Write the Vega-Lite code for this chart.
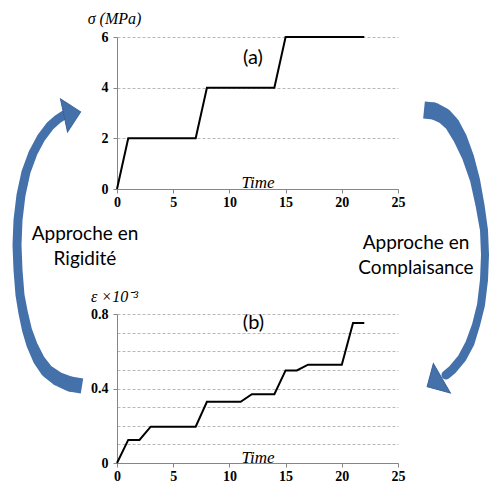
{
  "$schema": "https://vega.github.io/schema/vega-lite/v6.json",
  "background": "white",
  "padding": {"left": 12, "top": 10, "right": 0, "bottom": 0},
  "spacing": 125,
  "bounds": "flush",
  "config": {
    "view": {"stroke": null},
    "axis": {
      "domainColor": "#868686",
      "tickColor": "#868686",
      "tickSize": 4,
      "labelFont": "Liberation Serif",
      "labelFontWeight": "bold",
      "labelFontSize": 14,
      "labelColor": "#000000",
      "titleFont": "Liberation Serif",
      "titleFontStyle": "italic",
      "titleFontWeight": "normal",
      "titleFontSize": 17,
      "titleColor": "#000000",
      "gridColor": "#b8b8b8",
      "gridDash": [3, 2],
      "gridWidth": 1
    }
  },
  "vconcat": [
    {
      "width": 281,
      "height": 152,
      "encoding": {
        "x": {
          "field": "t", "type": "quantitative",
          "scale": {"domain": [0, 25], "nice": false, "zero": false},
          "axis": {"values": [0, 5, 10, 15, 20, 25], "grid": false, "title": "Time", "titleY": -2, "titleBaseline": "alphabetic", "labelPadding": 2, "labelFlush": false}
        },
        "y": {
          "field": "v", "type": "quantitative",
          "scale": {"domain": [0, 6], "nice": false},
          "axis": {"values": [0, 2, 4, 6], "grid": true, "title": "σ (MPa)", "titleFontSize": 16, "titleAngle": 0, "titleX": -3, "titleY": -19, "titleAlign": "center", "titleBaseline": "middle", "labelPadding": 5}
        }
      },
      "layer": [
        {
          "data": {"values": [
            {"t": 0, "v": 0}, {"t": 1, "v": 2}, {"t": 7, "v": 2}, {"t": 8, "v": 4},
            {"t": 14, "v": 4}, {"t": 15, "v": 6}, {"t": 22, "v": 6}
          ]},
          "mark": {"type": "line", "color": "#000000", "strokeWidth": 2}
        },
        {
          "data": {"values": [
            {"arrow": "L", "i": 1, "t": -3.114, "v": -7.777, "w": 15},
            {"arrow": "L", "i": 2, "t": -4.181, "v": -7.698, "w": 15},
            {"arrow": "R", "i": 1, "t": 27.313, "v": 3.119, "w": 17},
            {"arrow": "R", "i": 2, "t": 28.203, "v": 3.079, "w": 17}
          ]},
          "mark": {"type": "line", "color": "#4571AA", "strokeCap": "butt"},
          "encoding": {
            "strokeWidth": {"field": "w", "type": "quantitative", "scale": null},
            "order": {"field": "i", "type": "quantitative"},
            "detail": {"field": "arrow", "type": "nominal"}
          }
        },
        {
          "data": {"values": [
            {"arrow": "L", "i": 2, "t": -4.181, "v": -7.698, "w": 15},
            {"arrow": "L", "i": 3, "t": -5.249, "v": -7.501, "w": 14},
            {"arrow": "L", "i": 4, "t": -6.228, "v": -7.185, "w": 13},
            {"arrow": "L", "i": 5, "t": -6.940, "v": -6.751, "w": 12},
            {"arrow": "L", "i": 6, "t": -7.562, "v": -6.159, "w": 11},
            {"arrow": "L", "i": 7, "t": -8.007, "v": -5.567, "w": 10},
            {"arrow": "L", "i": 8, "t": -8.363, "v": -4.856, "w": 9.5},
            {"arrow": "L", "i": 9, "t": -8.630, "v": -4.185, "w": 9},
            {"arrow": "L", "i": 10, "t": -8.808, "v": -3.198, "w": 9},
            {"arrow": "L", "i": 11, "t": -8.897, "v": -2.211, "w": 9},
            {"arrow": "L", "i": 12, "t": -8.808, "v": -1.224, "w": 9},
            {"arrow": "L", "i": 13, "t": -8.541, "v": -0.237, "w": 9},
            {"arrow": "L", "i": 14, "t": -8.096, "v": 0.671, "w": 9},
            {"arrow": "L", "i": 15, "t": -7.473, "v": 1.421, "w": 9},
            {"arrow": "L", "i": 16, "t": -6.762, "v": 2.013, "w": 9},
            {"arrow": "L", "i": 17, "t": -5.961, "v": 2.487, "w": 9},
            {"arrow": "L", "i": 18, "t": -5.249, "v": 2.764, "w": 9},
            {"arrow": "L", "i": 19, "t": -4.715, "v": 2.921, "w": 9},
            {"arrow": "R", "i": 2, "t": 28.203, "v": 3.079, "w": 17},
            {"arrow": "R", "i": 3, "t": 29.093, "v": 2.882, "w": 16},
            {"arrow": "R", "i": 4, "t": 29.804, "v": 2.566, "w": 15},
            {"arrow": "R", "i": 5, "t": 30.516, "v": 2.013, "w": 14},
            {"arrow": "R", "i": 6, "t": 31.228, "v": 1.263, "w": 12},
            {"arrow": "R", "i": 7, "t": 31.851, "v": 0.355, "w": 10},
            {"arrow": "R", "i": 8, "t": 32.295, "v": -0.632, "w": 9},
            {"arrow": "R", "i": 9, "t": 32.651, "v": -1.619, "w": 8},
            {"arrow": "R", "i": 10, "t": 32.740, "v": -2.606, "w": 8},
            {"arrow": "R", "i": 11, "t": 32.651, "v": -3.593, "w": 8},
            {"arrow": "R", "i": 12, "t": 32.384, "v": -4.580, "w": 8},
            {"arrow": "R", "i": 13, "t": 31.940, "v": -5.369, "w": 8},
            {"arrow": "R", "i": 14, "t": 31.406, "v": -6.080, "w": 9},
            {"arrow": "R", "i": 15, "t": 30.694, "v": -6.672, "w": 9},
            {"arrow": "R", "i": 16, "t": 29.804, "v": -7.146, "w": 9},
            {"arrow": "R", "i": 17, "t": 29.270, "v": -7.343, "w": 9}
          ]},
          "mark": {"type": "trail", "color": "#4571AA"},
          "encoding": {
            "size": {"field": "w", "type": "quantitative", "scale": null},
            "order": {"field": "i", "type": "quantitative"},
            "detail": {"field": "arrow", "type": "nominal"}
          }
        },
        {
          "data": {"values": [
            {"t": -3.977, "v": 2.973, "ang": 348},
            {"t": 28.247, "v": -7.639, "ang": 150}
          ]},
          "mark": {"type": "point", "shape": "M -0.5 -1 L 0.5 0 L -0.5 1 Z", "filled": true, "opacity": 1, "color": "#4571AA", "size": 1156, "stroke": "#3A6299", "strokeWidth": 1},
          "encoding": {
            "angle": {"field": "ang", "type": "quantitative", "scale": null}
          }
        },
        {
          "data": {"values": [
            {"t": 12.1, "v": 5.17, "label": "(a)"}
          ]},
          "mark": {"type": "text", "font": "Lato", "fontSize": 20, "color": "#000000", "align": "center", "baseline": "middle"},
          "encoding": {"text": {"field": "label"}}
        },
        {
          "data": {"values": [
            {"t": -2.85, "v": -1.777, "label": "Approche en\nRigidité"},
            {"t": 26.6, "v": -2.132, "label": "Approche en\nComplaisance"}
          ]},
          "mark": {"type": "text", "font": "Lato", "fontSize": 19, "lineHeight": 25, "lineBreak": "\n", "color": "#000000", "align": "center", "baseline": "middle"},
          "encoding": {"text": {"field": "label"}}
        }
      ]
    },
    {
      "width": 281,
      "height": 149,
      "encoding": {
        "x": {
          "field": "t", "type": "quantitative",
          "scale": {"domain": [0, 25], "nice": false, "zero": false},
          "axis": {"values": [0, 5, 10, 15, 20, 25], "grid": false, "title": "Time", "titleY": -1, "titleBaseline": "alphabetic", "labelPadding": 2, "labelFlush": false}
        },
        "y": {
          "field": "v", "type": "quantitative",
          "scale": {"domain": [0, 0.8], "nice": false},
          "axis": {
            "values": [0, 0.1, 0.2, 0.3, 0.4, 0.5, 0.6, 0.7, 0.8],
            "grid": true,
            "labelExpr": "datum.value == 0 ? '0' : (datum.value == 0.4 ? '0.4' : (datum.value == 0.8 ? '0.8' : ''))",
            "tickOpacity": {"condition": {"test": "datum.value == 0 || datum.value == 0.4 || datum.value == 0.8", "value": 1}, "value": 0},
            "title": "ε ×10⁻³", "titleFontSize": 16, "titleAngle": 0, "titleX": -3, "titleY": -18, "titleAlign": "center", "titleBaseline": "middle", "labelPadding": 5
          }
        }
      },
      "layer": [
        {
          "data": {"values": [
            {"t": 0, "v": 0}, {"t": 1, "v": 0.124}, {"t": 2, "v": 0.124}, {"t": 3, "v": 0.195},
            {"t": 7, "v": 0.195}, {"t": 8, "v": 0.329}, {"t": 11, "v": 0.329}, {"t": 12, "v": 0.369},
            {"t": 14, "v": 0.369}, {"t": 15, "v": 0.497}, {"t": 16, "v": 0.497}, {"t": 17, "v": 0.528},
            {"t": 20, "v": 0.528}, {"t": 21, "v": 0.752}, {"t": 22, "v": 0.752}
          ]},
          "mark": {"type": "line", "color": "#000000", "strokeWidth": 2}
        },
        {
          "data": {"values": [
            {"t": 12.14, "v": 0.752, "label": "(b)"}
          ]},
          "mark": {"type": "text", "font": "Lato", "fontSize": 20, "color": "#000000", "align": "center", "baseline": "middle"},
          "encoding": {"text": {"field": "label"}}
        }
      ]
    }
  ]
}
